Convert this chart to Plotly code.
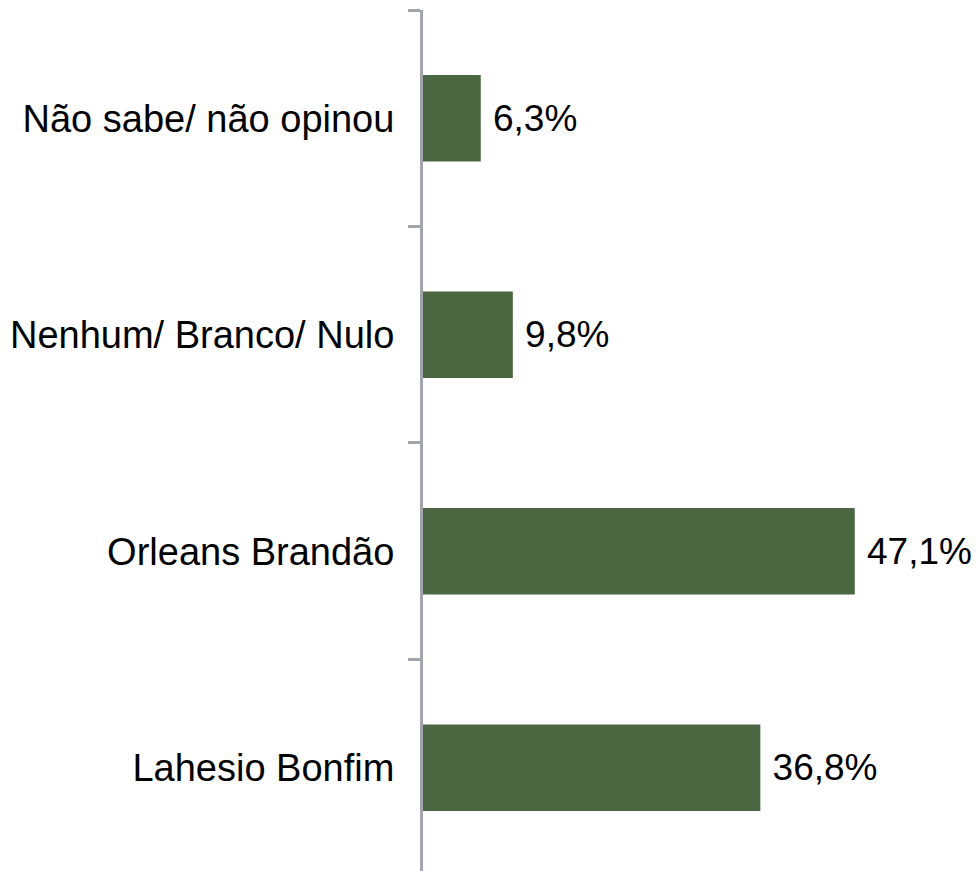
import plotly.graph_objects as go

categories = ["Lahesio Bonfim", "Orleans Brandão", "Nenhum/ Branco/ Nulo", "Não sabe/ não opinou"]
values = [36.8, 47.1, 9.8, 6.3]
labels = ["36,8%", "47,1%", "9,8%", "6,3%"]

fig = go.Figure(
    go.Bar(
        x=values,
        y=categories,
        orientation="h",
        width=0.4,
        marker=dict(color="#4a6741", line=dict(width=0)),
        text=labels,
        texttemplate="\u2005%{text}",
        textposition="outside",
        cliponaxis=False,
        textfont=dict(size=37, color="#000000"),
    )
)

fig.update_layout(
    width=978,
    height=871,
    margin=dict(l=423, r=5, t=10, b=0),
    paper_bgcolor="white",
    plot_bgcolor="white",
    font=dict(family="Liberation Sans, Arial, sans-serif", size=38, color="#000000"),
    showlegend=False,
)
fig.update_xaxes(range=[0, 60], visible=False, automargin=False)
fig.update_yaxes(
    type="category",
    range=[-0.477, 3.5],
    automargin=False,
    showline=True,
    linecolor="#a2a5ad",
    linewidth=3,
    ticks="outside",
    tickson="boundaries",
    ticklen=12,
    tickwidth=3,
    tickcolor="#a2a5ad",
    ticklabelstandoff=18,
    showgrid=False,
    zeroline=False,
)

# page body has a default margin; drop it so the figure sits at the corner
fig.write_html(
    "out.html",
    config={"displayModeBar": False},
    post_script="document.body.style.margin='0';",
)
